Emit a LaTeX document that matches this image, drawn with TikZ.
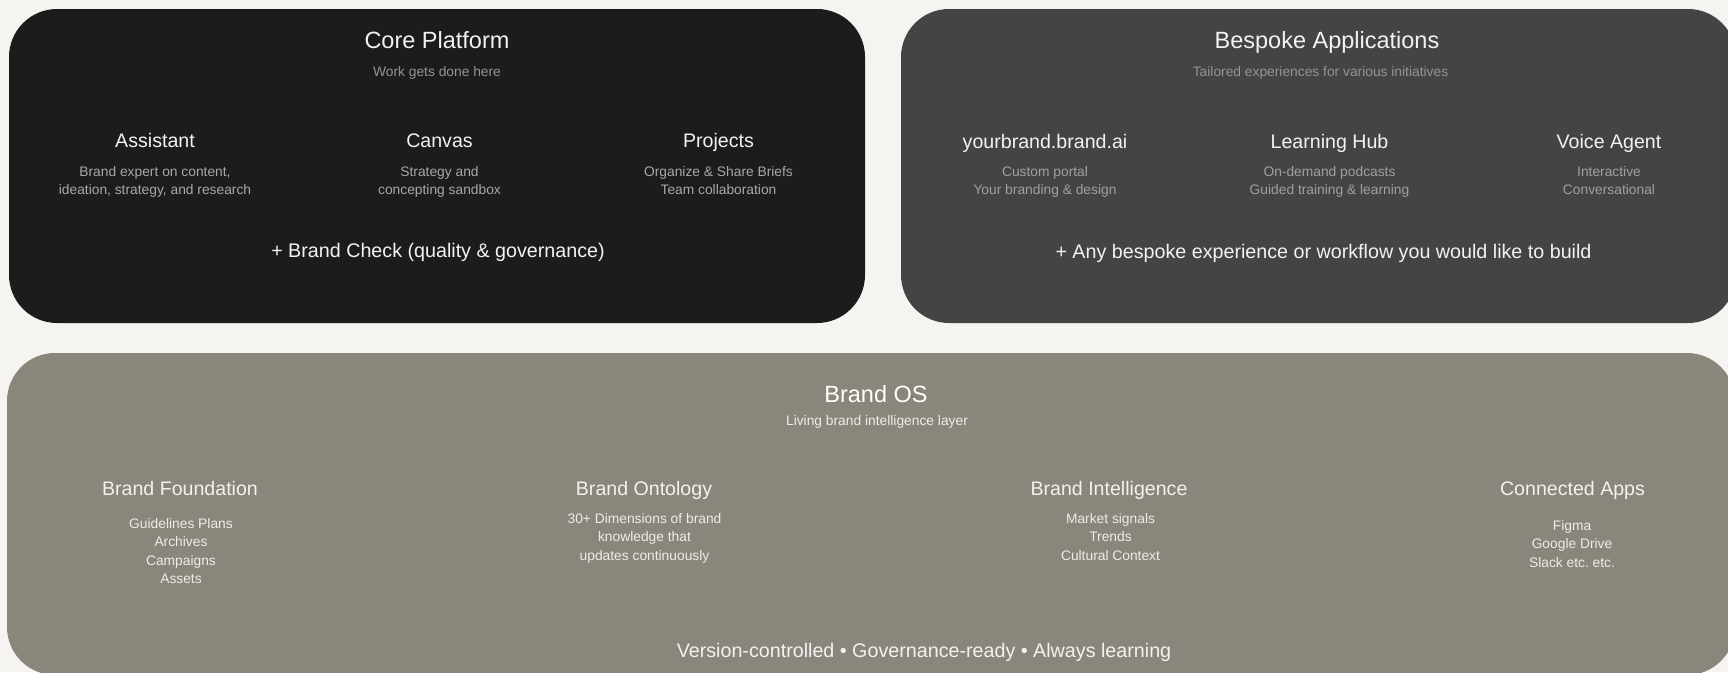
\documentclass[tikz,border=0pt]{standalone}
\usepackage{fontspec}
\setmainfont{Liberation Sans}
\frenchspacing
\definecolor{pagebg}{HTML}{F5F4F0}
\definecolor{corefill}{HTML}{1C1C1C}
\definecolor{bespokefill}{HTML}{444444}
\definecolor{osfill}{HTML}{8A867B}
\definecolor{headtext}{HTML}{F2F2F2}
\definecolor{darksub}{HTML}{949494}
\definecolor{coredesc}{HTML}{A8A8A8}
\definecolor{bespokedesc}{HTML}{A0A0A0}
\definecolor{oslight}{HTML}{EFECE6}
% centred lines whose baseline is that of the first line
\newcommand\linestack[1]{\vtop{\halign{\hfil##\hfil\cr#1\crcr}}}
\begin{document}
\begin{tikzpicture}[x=1pt,y=-1pt,
  panel/.style={rectangle, rounded corners=48pt, draw=none, inner sep=0pt},
  titletext/.style={anchor=base, inner sep=0pt, text=headtext, font=\fontsize{23.5}{28}\selectfont},
  subtext/.style={anchor=base, inner sep=0pt, font=\fontsize{13.8}{18.5}\selectfont},
  headtext/.style={anchor=base, inner sep=0pt, text=headtext, font=\fontsize{19.6}{24}\selectfont},
  desctext/.style={anchor=base, inner sep=0pt, font=\fontsize{13.8}{18.5}\selectfont},
  footnote/.style={anchor=base, inner sep=0pt, text=headtext, font=\fontsize{19.7}{24}\selectfont}]
\useasboundingbox (0,0) rectangle (1728,672);
\clip (0,0) rectangle (1728,672);
\fill[pagebg] (0,0) rectangle (1728,672);

% three panels
\node[panel, fill=corefill, minimum width=856pt, minimum height=314pt] (core) at (437,166) {};
\node[panel, fill=bespokefill, minimum width=835pt, minimum height=314pt] (bespoke) at (1318.5,166) {};
\node[panel, fill=osfill, minimum width=1728pt, minimum height=322pt] (brandos) at (871,514) {};

% Core Platform
\node[titletext] (coretitle) at (437,48) {Core Platform};
\node[subtext, text=darksub] (coresub) at (437,76) {Work gets done here};
\node[headtext] (assistant) at (155,147) {Assistant};
\node[desctext, text=coredesc] (assistantdesc) at (155,176) {\linestack{Brand expert on content,\cr ideation, strategy, and research}};
\node[headtext] (canvas) at (439.5,147) {Canvas};
\node[desctext, text=coredesc] (canvasdesc) at (439.5,176) {\linestack{Strategy and\cr concepting sandbox}};
\node[headtext] (projects) at (718.5,147) {Projects};
\node[desctext, text=coredesc] (projectsdesc) at (718.5,176) {\linestack{Organize \& Share Briefs\cr Team collaboration}};
\node[footnote] (brandcheck) at (438,257) {+ Brand Check (quality \& governance)};

% Bespoke Applications
\node[titletext] (bespoketitle) at (1327,48) {Bespoke Applications};
\node[subtext, text=darksub] (bespokesub) at (1320.5,76) {Tailored experiences for various initiatives};
\node[headtext] (portal) at (1045,148) {yourbrand.brand.ai};
\node[desctext, text=bespokedesc] (portaldesc) at (1045,176) {\linestack{Custom portal\cr Your branding \& design}};
\node[headtext] (hub) at (1329.5,148) {Learning Hub};
\node[desctext, text=bespokedesc] (hubdesc) at (1329.5,176) {\linestack{On-demand podcasts\cr Guided training \& learning}};
\node[headtext] (voice) at (1609,148) {Voice Agent};
\node[desctext, text=bespokedesc] (voicedesc) at (1609,176) {\linestack{Interactive\cr Conversational}};
\node[footnote] (anybespoke) at (1323.5,258) {+ Any bespoke experience or workflow you would like to build};

% Brand OS
\node[titletext, text=white] (ostitle) at (876,402) {Brand OS};
\node[subtext, text=oslight] (ossub) at (877,425) {Living brand intelligence layer};
\node[headtext] (foundation) at (180,495) {Brand Foundation};
\node[desctext, text=oslight] (foundationdesc) at (181,528) {\linestack{Guidelines Plans\cr Archives\cr Campaigns\cr Assets}};
\node[headtext] (ontology) at (644,495) {Brand Ontology};
\node[desctext, text=oslight] (ontologydesc) at (644.5,523) {\linestack{30+ Dimensions of brand\cr knowledge that\cr updates continuously}};
\node[headtext] (intelligence) at (1109,495) {Brand Intelligence};
\node[desctext, text=oslight] (intelligencedesc) at (1110.5,523) {\linestack{Market signals\cr Trends\cr Cultural Context}};
\node[headtext] (connected) at (1572.5,495) {Connected Apps};
\node[desctext, text=oslight] (connecteddesc) at (1572,530) {\linestack{Figma\cr Google Drive\cr Slack etc. etc.}};
\node[footnote] (osfooter) at (924,657) {Version-controlled • Governance-ready • Always learning};
\end{tikzpicture}
\end{document}
